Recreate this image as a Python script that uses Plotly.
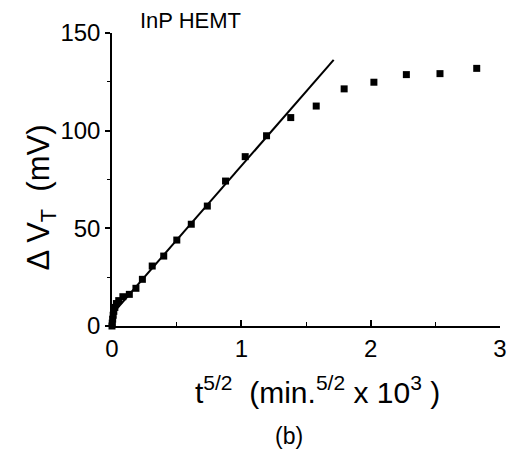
import plotly.graph_objects as go

# data
x_data = [0, 0.002, 0.005, 0.009, 0.014, 0.022, 0.034, 0.052, 0.084, 0.134, 0.185, 0.235,
          0.311, 0.40, 0.501, 0.613, 0.737, 0.878, 1.03, 1.195, 1.382, 1.579, 1.795,
          2.025, 2.276, 2.536, 2.82]
y_data = [0, 1.5, 3.5, 5.5, 7.5, 9.5, 11.5, 13.0, 15.0, 16.2, 19.3, 23.9,
          30.7, 35.8, 44.0, 52.1, 61.4, 74.2, 86.7, 97.4, 106.7, 112.6, 121.4,
          124.8, 128.7, 129.2, 131.9]
fit_x = [0, 1.714]
fit_y = [6.0, 136.2]

x_ticks = [0, 1, 2, 3]
y_ticks = [0, 50, 100, 150]

FONT = "Liberation Sans, Arial, sans-serif"

fig = go.Figure()
fig.add_trace(go.Scatter(x=fit_x, y=fit_y, mode="lines",
                         line=dict(color="black", width=2), hoverinfo="skip"))
fig.add_trace(go.Scatter(x=x_data, y=y_data, mode="markers",
                         marker=dict(symbol="square", size=7, color="black"),
                         cliponaxis=False))

fig.update_layout(
    width=507, height=445,
    margin=dict(l=104, r=8, t=25, b=127),
    paper_bgcolor="white", plot_bgcolor="white",
    showlegend=False,
    font=dict(family=FONT, color="black"),
    xaxis=dict(range=[0, 3], tickvals=x_ticks, ticktext=[str(v) for v in x_ticks],
               showgrid=False, zeroline=False, showline=True, linecolor="black", linewidth=1.5,
               ticks="inside", ticklen=6, tickwidth=1.5, tickcolor="black",
               tickfont=dict(size=24, family=FONT),
               minor=dict(tickvals=[0.5, 1.5, 2.5], ticks="inside", ticklen=4,
                          tickwidth=1, tickcolor="black")),
    yaxis=dict(range=[0, 150], tickvals=y_ticks, ticktext=[str(v) for v in y_ticks],
               showgrid=False, zeroline=False, showline=True, linecolor="black", linewidth=1.5,
               ticks="outside", ticklen=5, tickwidth=1.5, tickcolor="black",
               tickfont=dict(size=24, family=FONT),
               minor=dict(tickvals=[25, 75, 125], ticks="outside", ticklen=3,
                          tickwidth=1, tickcolor="black")),
)

fig.add_annotation(text="InP HEMT", xref="paper", yref="paper", x=0.066, y=1.041,
                   xanchor="left", yanchor="middle", showarrow=False,
                   font=dict(size=22, family=FONT, color="black"))
fig.add_annotation(text="\u0394 V<sub>T</sub>  (mV)", xref="paper", yref="paper",
                   x=-0.182, y=0.44, textangle=-90, xanchor="center", yanchor="middle",
                   showarrow=False, font=dict(size=31, family=FONT, color="black"))
fig.add_annotation(text="t<sup>5/2</sup>  (min.<sup>5/2</sup> x 10<sup>3</sup> )",
                   xref="paper", yref="paper", x=0.529, y=-0.218,
                   xanchor="center", yanchor="middle", showarrow=False,
                   font=dict(size=30, family=FONT, color="black"))
fig.add_annotation(text="(b)", xref="paper", yref="paper", x=0.455, y=-0.375,
                   xanchor="center", yanchor="middle", showarrow=False,
                   font=dict(size=23, family=FONT, color="black"))

fig.write_html("out.html")
